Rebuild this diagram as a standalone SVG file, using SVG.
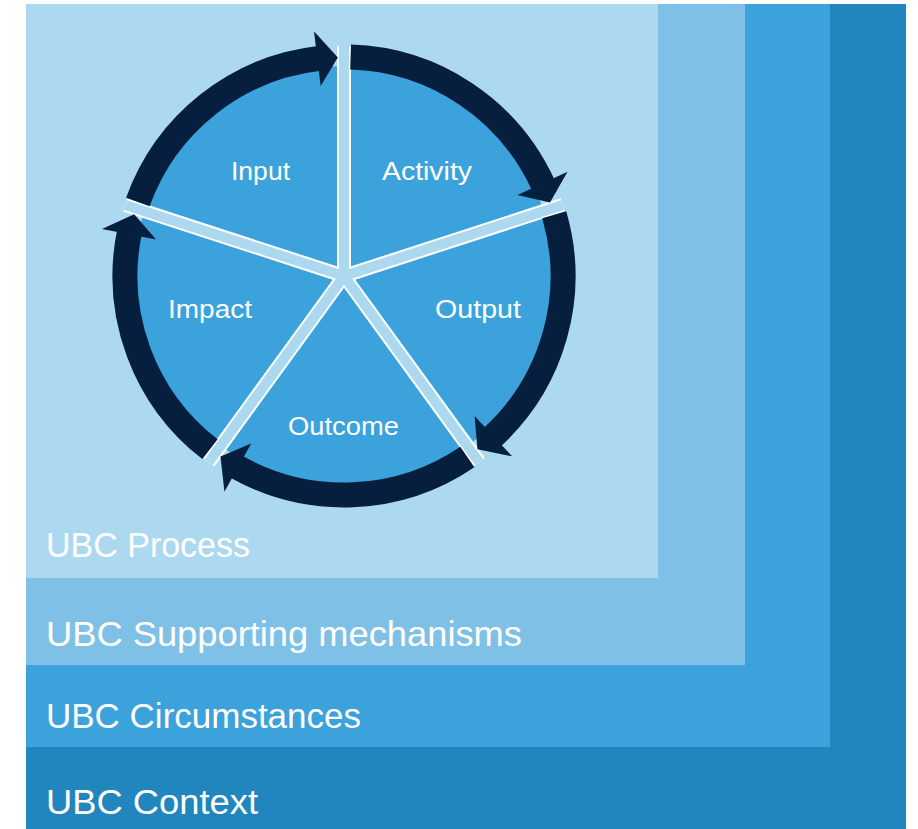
<svg xmlns="http://www.w3.org/2000/svg" xmlns:xlink="http://www.w3.org/1999/xlink" width="918" height="829" viewBox="0 0 918 829">
  <style>
    .lbl { font-family: "Liberation Sans", Arial, sans-serif; fill: #ffffff; }
    .big { font-size: 35px; }
    .small { font-size: 26px; }
    .ring { fill: none; stroke: #071F3E; stroke-width: 25; }
    .head { fill: #071F3E; }
    .spokeW { stroke: #ffffff; stroke-width: 14; }
    .spokeL { stroke: #ADD9F0; stroke-width: 10; }
  </style>
  <defs>
    <g id="seg">
      <path class="ring" d="M 350.6 56.1 A 219 219 0 0 1 543.28 184.18"/>
      <polygon class="head" points="567.5,170.8 550.0,201.6 517.5,194.1"/>
    </g>
    <line id="spW" class="spokeW" x1="344" y1="275" x2="344" y2="45"/>
    <line id="spL" class="spokeL" x1="344" y1="275" x2="344" y2="45"/>
  </defs>

  <rect width="918" height="829" fill="#ffffff"/>

  <g id="layer-context">
    <rect x="26" y="4" width="880" height="825" fill="#2185BE"/>
    <text class="lbl big" x="46" y="814" textLength="212" lengthAdjust="spacingAndGlyphs">UBC Context</text>
  </g>
  <g id="layer-circumstances">
    <rect x="26" y="4" width="804" height="743" fill="#3CA2DB"/>
    <text class="lbl big" x="46" y="728" textLength="315" lengthAdjust="spacingAndGlyphs">UBC Circumstances</text>
  </g>
  <g id="layer-supporting">
    <rect x="26" y="4" width="719" height="661" fill="#7FC1E6"/>
    <text class="lbl big" x="46" y="646" textLength="476" lengthAdjust="spacingAndGlyphs">UBC Supporting mechanisms</text>
  </g>
  <g id="layer-process">
    <rect x="26" y="4" width="632" height="574" fill="#ADD9F0"/>
    <text class="lbl big" x="46" y="557" textLength="204" lengthAdjust="spacingAndGlyphs">UBC Process</text>
  </g>

  <g id="pie" transform="translate(0 1)">
    <circle cx="344" cy="275" r="210" fill="#3CA2DB"/>
    <use xlink:href="#spW"/>
    <use xlink:href="#spW" transform="rotate(72 344 275)"/>
    <use xlink:href="#spW" transform="rotate(144 344 275)"/>
    <use xlink:href="#spW" transform="rotate(216 344 275)"/>
    <use xlink:href="#spW" transform="rotate(288 344 275)"/>
    <use xlink:href="#spL"/>
    <use xlink:href="#spL" transform="rotate(72 344 275)"/>
    <use xlink:href="#spL" transform="rotate(144 344 275)"/>
    <use xlink:href="#spL" transform="rotate(216 344 275)"/>
    <use xlink:href="#spL" transform="rotate(288 344 275)"/>
  </g>

  <g id="node-input">
    <text class="lbl small" x="231" y="180" textLength="59" lengthAdjust="spacingAndGlyphs">Input</text>
  </g>
  <g id="node-activity">
    <text class="lbl small" x="382" y="180" textLength="90" lengthAdjust="spacingAndGlyphs">Activity</text>
  </g>
  <g id="node-output">
    <text class="lbl small" x="435" y="318" textLength="86" lengthAdjust="spacingAndGlyphs">Output</text>
  </g>
  <g id="node-outcome">
    <text class="lbl small" x="288" y="435" textLength="111" lengthAdjust="spacingAndGlyphs">Outcome</text>
  </g>
  <g id="node-impact">
    <text class="lbl small" x="168" y="318" textLength="84" lengthAdjust="spacingAndGlyphs">Impact</text>
  </g>

  <g id="connectors" transform="translate(0 1)">
    <use xlink:href="#seg"/>
    <use xlink:href="#seg" transform="rotate(72 344 275)"/>
    <use xlink:href="#seg" transform="rotate(144 344 275)"/>
    <use xlink:href="#seg" transform="rotate(216 344 275)"/>
    <use xlink:href="#seg" transform="rotate(288 344 275)"/>
  </g>
</svg>
